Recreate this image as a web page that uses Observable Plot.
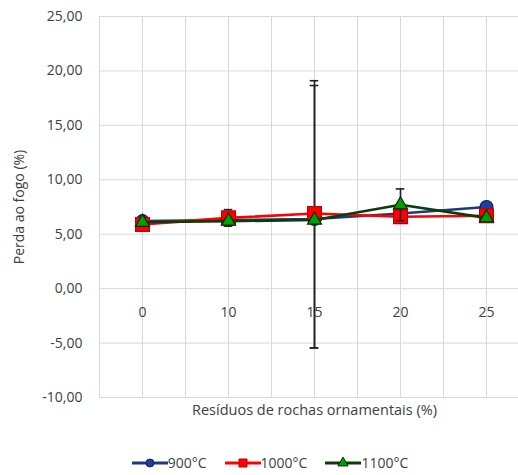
<!DOCTYPE html>
<html>
<head>
<meta charset="utf-8">
<script src="https://cdn.jsdelivr.net/npm/d3@7"></script>
<script src="https://cdn.jsdelivr.net/npm/@observablehq/plot@0.6"></script>
<style>
  body { margin: 0; background: #fff; font-family: "Open Sans", sans-serif; }
  #legend { display: flex; justify-content: center; align-items: center; gap: 18px; padding-left: 22px; margin-top: 13px; font-size: 14px; color: #404040; }
  .item { display: flex; align-items: center; }
</style>
</head>
<body>
<div id="chart"></div>
<div id="legend"></div>
<script>
const categories = ["0", "10", "15", "20", "25"];
const yTicks = [-10, -5, 0, 5, 10, 15, 20, 25];
const series = ["900°C", "1000°C", "1100°C"];
const v900 = [6.2, 6.3, 6.4, 6.9, 7.5];
const v1000 = [5.9, 6.5, 6.9, 6.6, 6.7];
const v1100 = [6.1, 6.2, 6.3, 7.7, 6.5];
const errLow1000 = [null, 5.74, -5.45, null, null];
const errHigh1000 = [null, 7.26, 19.1, null, null];
const errLow900 = [null, null, -5.45, null, null];
const errHigh900 = [null, null, 18.66, null, null];
const errLow1100 = [null, null, null, 6.24, null];
const errHigh1100 = [null, null, null, 9.16, null];

const styles = {
  "900°C": {line: "#1f3a7a", fill: "#203f9c", stroke: "#0b1f5a", symbol: "circle", r: 6.5},
  "1000°C": {line: "#ff0000", fill: "#ff0000", stroke: "#c00000", symbol: "square", r: 7.8},
  "1100°C": {line: "#0b3d0b", fill: "#00a000", stroke: "#0a2a0a", symbol: "triangle", r: 5.2}
};
const valuesBy = {"900°C": v900, "1000°C": v1000, "1100°C": v1100};
const errBy = {
  "900°C": [errLow900, errHigh900],
  "1000°C": [errLow1000, errHigh1000],
  "1100°C": [errLow1100, errHigh1100]
};

const n = categories.length;
const gridX = d3.range(-0.5, n + 0.01, 0.5);
const capHalf = 0.05;

const marks = [
  Plot.ruleY(yTicks, {stroke: "#d9d9d9", strokeWidth: 1}),
  Plot.ruleX(gridX, {y1: yTicks[0], y2: yTicks[yTicks.length - 1], stroke: "#d9d9d9", strokeWidth: 1}),
  Plot.axisY({ticks: yTicks, tickSize: 0, tickPadding: 17, tickFormat: d => d.toFixed(2).replace(".", ","),
    fontSize: 14, color: "#404040", label: "Perda ao fogo (%)", labelAnchor: "center", labelArrow: "none", labelOffset: 85}),
  Plot.text(categories, {x: (d, i) => i, y: () => 0, text: d => d, dy: 24, fontSize: 14, fill: "#404040"}),
  Plot.text(["Resíduos de rochas ornamentais (%)"], {x: () => (n - 1) / 2, frameAnchor: "bottom", dy: 17, fontSize: 14.5, fill: "#404040"})
];

for (const s of series) {
  const st = styles[s];
  const vals = valuesBy[s];
  const data = vals.map((v, i) => ({i, v}));
  const [lo, hi] = errBy[s];
  const err = lo.map((l, i) => ({i, lo: l, hi: hi[i]})).filter(d => d.lo != null);
  marks.push(
    Plot.ruleX(err, {x: "i", y1: "lo", y2: "hi", stroke: "#222", strokeWidth: 1.6}),
    Plot.ruleY(err, {y: "hi", x1: d => d.i - capHalf, x2: d => d.i + capHalf, stroke: "#222", strokeWidth: 1.6}),
    Plot.ruleY(err, {y: "lo", x1: d => d.i - capHalf, x2: d => d.i + capHalf, stroke: "#222", strokeWidth: 1.6}),
    Plot.line(data, {x: "i", y: "v", stroke: st.line, strokeWidth: 2.6}),
    Plot.dot(data, {x: "i", y: "v", symbol: st.symbol, r: st.r, fill: st.fill, stroke: st.stroke, strokeWidth: 1.2})
  );
}

const chart = Plot.plot({
  width: 518,
  height: 440,
  marginTop: 16,
  marginBottom: 43,
  marginLeft: 99,
  marginRight: 0,
  style: {fontFamily: "Open Sans, sans-serif", background: "#fff", overflow: "visible"},
  x: {type: "linear", domain: [-0.5, n - 0.5], range: [99, 529], axis: null},
  y: {domain: [yTicks[0], yTicks[yTicks.length - 1]], range: [397, 16]},
  marks
});
document.getElementById("chart").appendChild(chart);

const legend = document.getElementById("legend");
for (const s of series) {
  const st = styles[s];
  const item = document.createElement("div");
  item.className = "item";
  const svg = d3.create("svg").attr("width", 36).attr("height", 16);
  svg.append("line").attr("x1", 0).attr("x2", 36).attr("y1", 8).attr("y2", 8).attr("stroke", st.line).attr("stroke-width", 3);
  const sym = {circle: d3.symbolCircle, square: d3.symbolSquare, triangle: d3.symbolTriangle}[st.symbol];
  const size = {circle: 50, square: 64, triangle: 45}[st.symbol];
  svg.append("path").attr("d", d3.symbol(sym, size)()).attr("transform", "translate(18,8)")
    .attr("fill", st.fill).attr("stroke", st.stroke).attr("stroke-width", 1);
  item.appendChild(svg.node());
  const t = document.createElement("span");
  t.textContent = s;
  item.appendChild(t);
  legend.appendChild(item);
}
</script>
</body>
</html>
